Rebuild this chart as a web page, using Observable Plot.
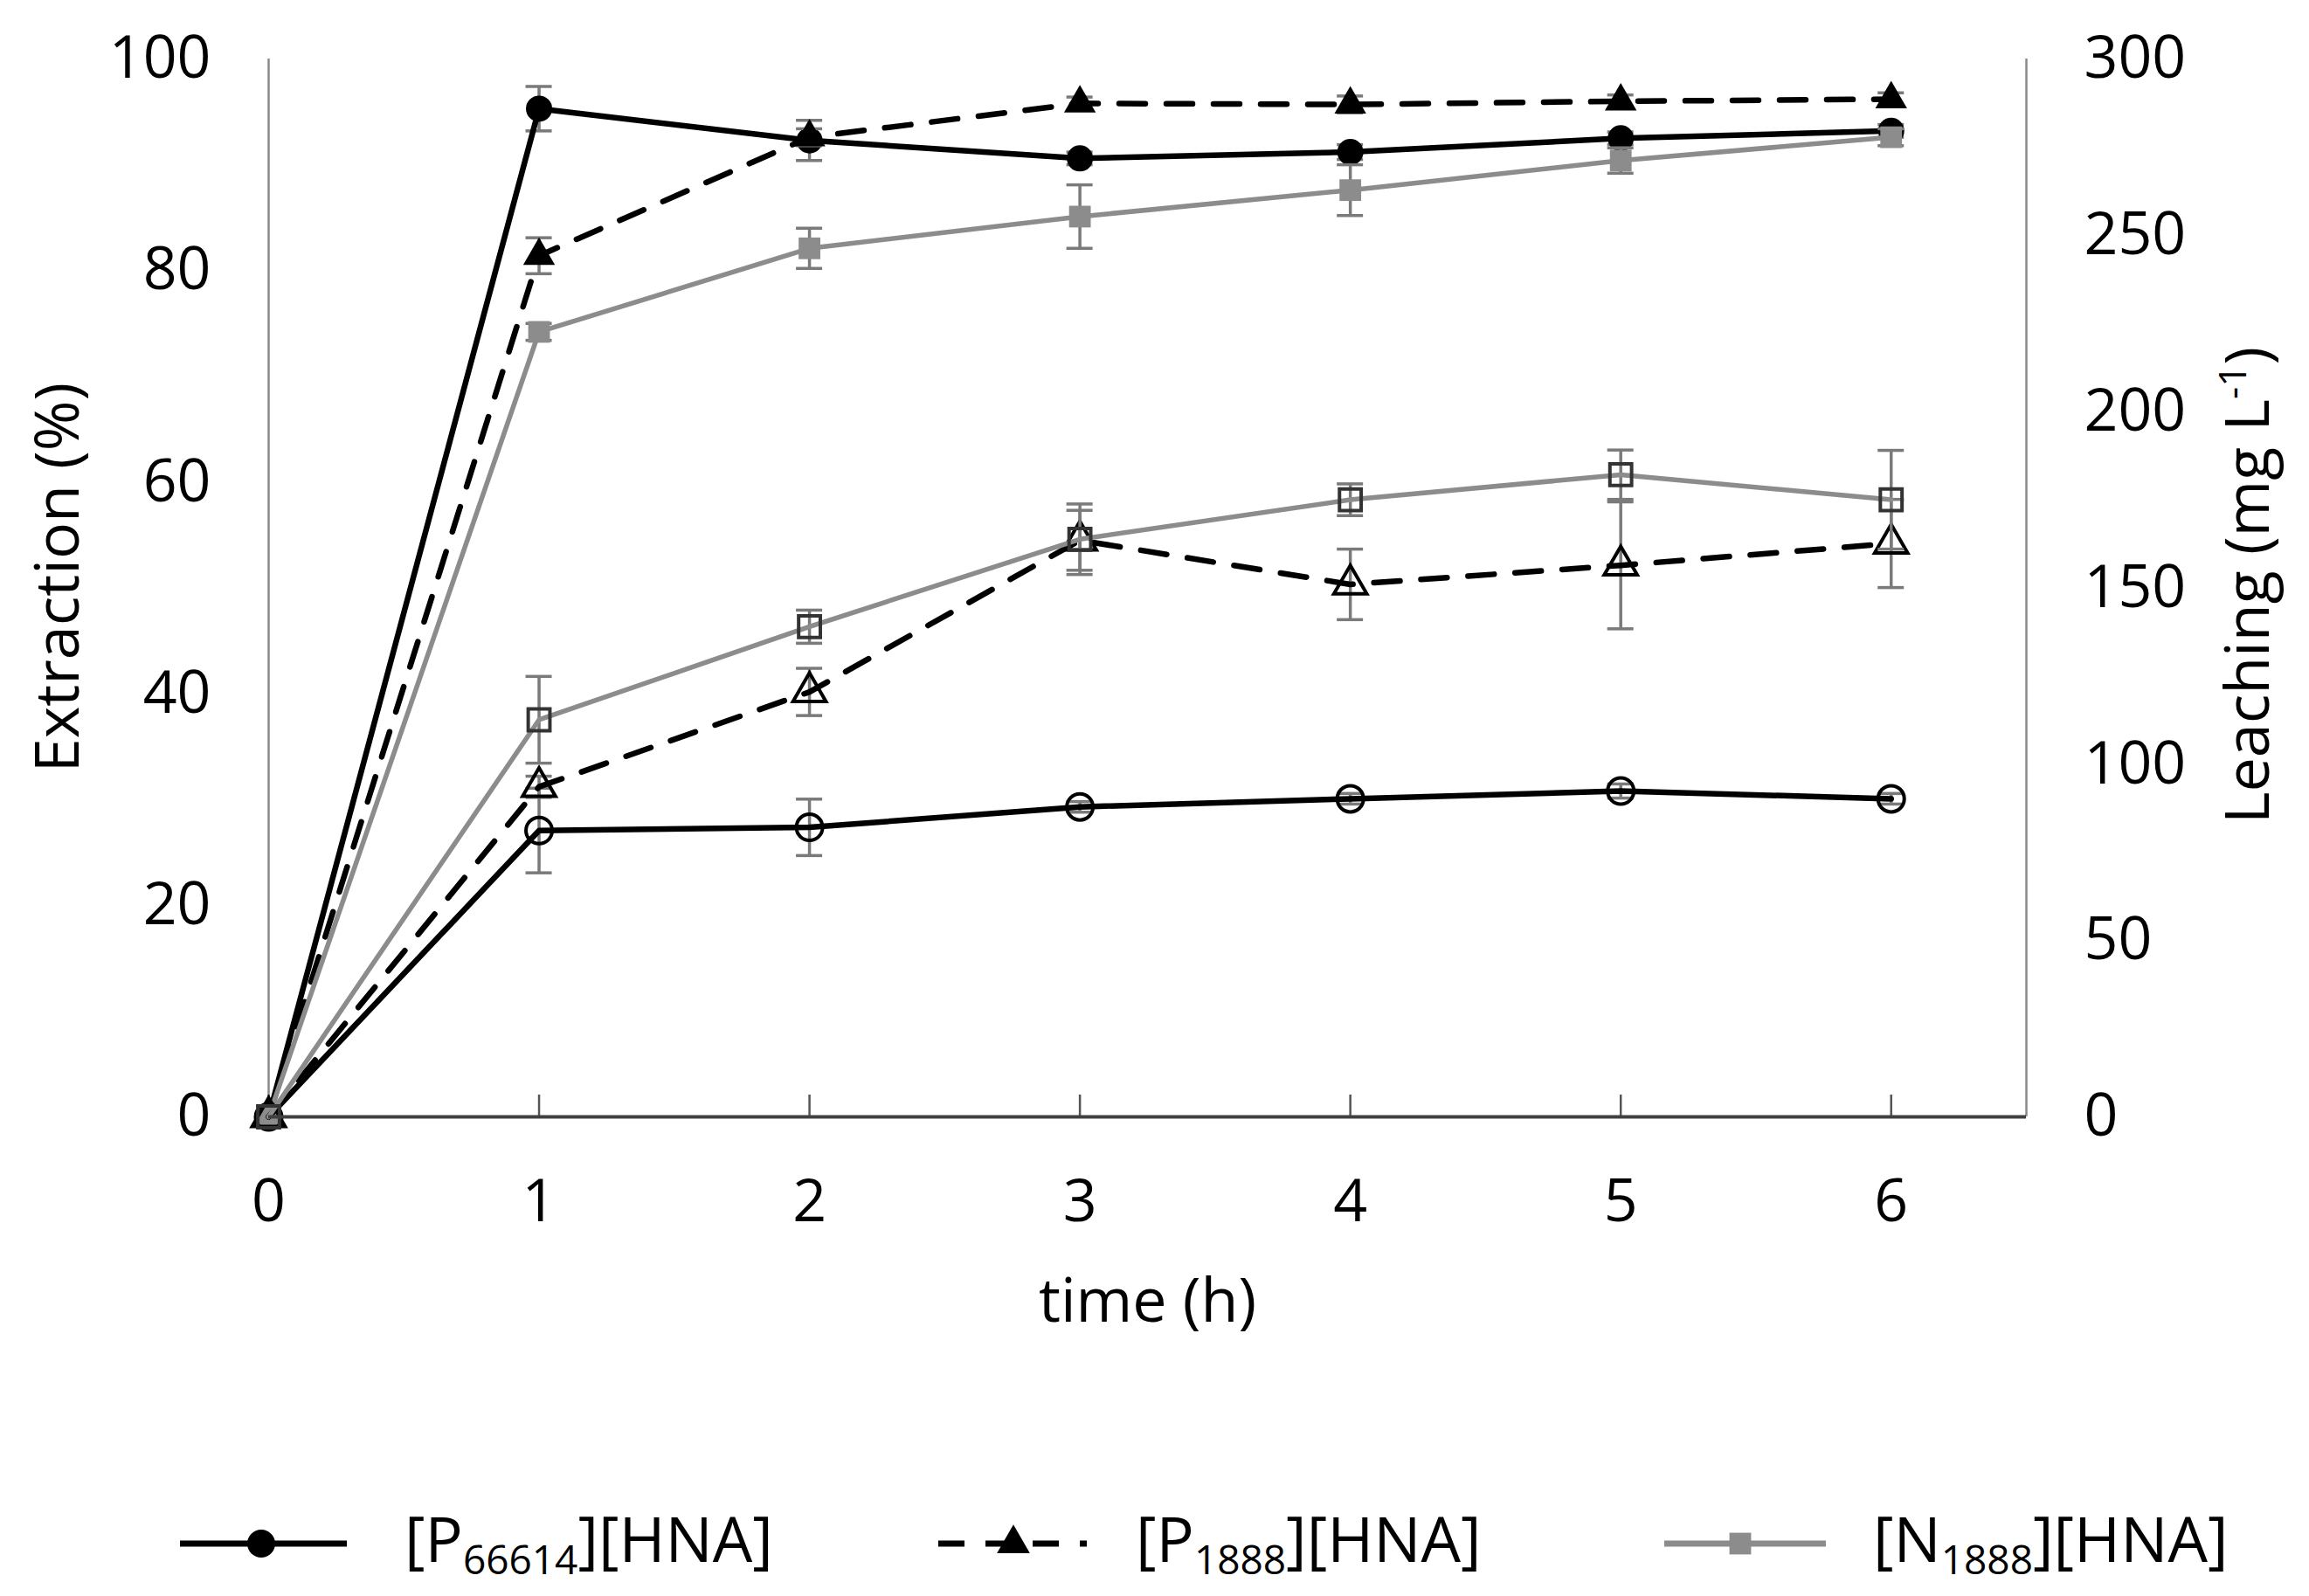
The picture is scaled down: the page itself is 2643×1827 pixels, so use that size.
<!DOCTYPE html>
<html><head><meta charset="utf-8">
<script src="https://cdn.jsdelivr.net/npm/d3@7"></script>
<script src="https://cdn.jsdelivr.net/npm/@observablehq/plot@0.6"></script>
<style>
html,body{margin:0;padding:0;background:#fff;}
#chart{width:2643px;}
#chart svg{display:block;}
</style></head><body><div id="chart"></div>
<script>
// ---- data ----
const time = [0, 1, 2, 3, 4, 5, 6];
const seriesLabels = ["P66614", "P1888", "N1888"];

// Extraction (%) – filled markers
const extP66614    = [0, 95.3, 92.3, 90.6, 91.2, 92.5, 93.2];
const extP66614Err = [0, 2.1, 1.9, 0.6, 0.7, 0.6, 0.6];
const extP1888     = [0, 81.4, 92.6, 95.8, 95.7, 96.0, 96.2];
const extP1888Err  = [0, 1.7, 0.8, 0.6, 0.8, 0.6, 0.6];
const extN1888     = [0, 74.2, 82.1, 85.1, 87.6, 90.4, 92.6];
const extN1888Err  = [0, 0.8, 1.9, 3.0, 2.4, 1.2, 0.8];

// Leaching (mg L-1) – open markers, right axis
const leachP66614    = [0, 81.2, 82.1, 87.9, 90.2, 92.4, 90.2];
const leachP66614Err = [0, 12, 8, 1.5, 1.5, 2, 1.5];
const leachP1888     = [0, 93.6, 120.5, 163.5, 151.0, 156.4, 162.6];
const leachP1888Err  = [0, 3, 6.7, 8.5, 10, 18, 12.5];
const leachN1888     = [0, 112.6, 139.0, 163.8, 175.0, 182.1, 175.0];
const leachN1888Err  = [0, 12.3, 4.7, 10, 4.5, 7, 14];

const xTicks = [0, 1, 2, 3, 4, 5, 6];
const xMax = 6.5;
const leftTicks = [0, 20, 40, 60, 80, 100];
const rightTicks = [0, 50, 100, 150, 200, 250, 300];
const extMax = 100, leachMax = 300;
const ratio = leachMax / extMax;

const xLabel = "time (h)";
const yLabel = "Extraction (%)";
const y2Label = "Leaching (mg L-1)";

// ---- build ----
function rows(vals, errs, scale) {
  return time.map((t, i) => ({t, v: vals[i] / scale, e: errs[i] / scale}));
}

const FONT = "'Open Sans', sans-serif";
const ERR = "#7a7a7a";
const GRAY = "#8c8c8c";
const DASH = "30,24";

function seriesMarks(data, line, dot) {
  const withErr = data.filter(d => d.e > 0);
  return [
    Plot.ruleX(withErr, {x: "t", y1: d => d.v - d.e, y2: d => d.v + d.e, stroke: ERR, strokeWidth: 3.5}),
    Plot.ruleY(withErr, {x1: "t", x2: "t", y: d => d.v + d.e, insetLeft: -15, insetRight: -15, stroke: ERR, strokeWidth: 3.5}),
    Plot.ruleY(withErr, {x1: "t", x2: "t", y: d => d.v - d.e, insetLeft: -15, insetRight: -15, stroke: ERR, strokeWidth: 3.5}),
    Plot.line(data, {x: "t", y: "v", ...line}),
    Plot.dot(data, {x: "t", y: "v", ...dot})
  ];
}

const ext1 = rows(extP66614, extP66614Err, 1);
const ext2 = rows(extP1888, extP1888Err, 1);
const ext3 = rows(extN1888, extN1888Err, 1);
const lea1 = rows(leachP66614, leachP66614Err, ratio);
const lea2 = rows(leachP1888, leachP1888Err, ratio);
const lea3 = rows(leachN1888, leachN1888Err, ratio);

const W = 2643, H = 1600;

const chart = Plot.plot({
  width: W, height: H,
  marginLeft: 307, marginRight: 324, marginTop: 67, marginBottom: 322,
  x: {domain: [0, xMax]},
  y: {domain: [0, extMax]},
  style: {fontFamily: FONT, background: "white", color: "black"},
  marks: [
    // axes lines
    Plot.ruleX([0], {stroke: "#8a8a8a", strokeWidth: 2.5}),
    Plot.ruleX([xMax], {stroke: "#8a8a8a", strokeWidth: 2.5}),
    Plot.ruleX(xTicks, {x: d => d, y1: 0, y2: 0, insetTop: -25, stroke: "#555", strokeWidth: 2.5}),
    Plot.axisX({ticks: xTicks, tickSize: 0, tickPadding: 71, fontSize: 68, label: null, tickFormat: d => String(d)}),
    Plot.axisY({ticks: leftTicks, tickSize: 0, tickPadding: 66, fontSize: 68, label: null, tickFormat: d => String(d)}),
    Plot.axisY({anchor: "right", ticks: rightTicks.map(v => v / ratio), tickSize: 0, tickPadding: 66, fontSize: 68, label: null, tickFormat: d => String(Math.round(d * ratio))}),
    // titles
    Plot.text([xLabel], {text: d => d, frameAnchor: "bottom", dy: 212, fontSize: 70, textAnchor: "middle", lineAnchor: "middle"}),
    Plot.text([yLabel], {text: d => d, frameAnchor: "left", dx: -240, dy: -12, rotate: -90, fontSize: 70, textAnchor: "middle", lineAnchor: "middle"}),
    Plot.text([y2Label], {text: d => d, frameAnchor: "right", dx: 255, dy: -3, rotate: -90, fontSize: 70, textAnchor: "middle", lineAnchor: "middle"}),
    // extraction series
    ...seriesMarks(ext1, {stroke: "black", strokeWidth: 6.5}, {symbol: "circle", r: 15, fill: "black"}),
    ...seriesMarks(ext2, {stroke: "black", strokeWidth: 6.5, strokeDasharray: DASH}, {symbol: "triangle", r: 13.5, fill: "black"}),
    ...seriesMarks(ext3, {stroke: GRAY, strokeWidth: 5.5}, {symbol: "square", r: 14, fill: GRAY}),
    // leaching series
    ...seriesMarks(lea1, {stroke: "black", strokeWidth: 6.5}, {symbol: "circle", r: 15, fill: "none", stroke: "black", strokeWidth: 4}),
    ...seriesMarks(lea2, {stroke: "black", strokeWidth: 6.5, strokeDasharray: DASH}, {symbol: "triangle", r: 14, fill: "none", stroke: "black", strokeWidth: 4}),
    ...seriesMarks(lea3, {stroke: GRAY, strokeWidth: 5.5}, {symbol: "square", r: 14, fill: "none", stroke: "#333", strokeWidth: 4}),
    // bottom axis line on top
    Plot.ruleY([0], {stroke: "#404040", strokeWidth: 4})
  ]
});

// superscript in right axis title
d3.select(chart).selectAll("text").filter(function() { return this.textContent === y2Label; })
  .each(function() {
    const t = d3.select(this);
    t.text(null);
    t.append("tspan").text("Leaching (mg L");
    t.append("tspan").attr("font-size", 44).attr("dy", -26).text("-1");
    t.append("tspan").attr("font-size", 70).attr("dy", 26).text(")");
  });

document.getElementById("chart").appendChild(chart);

// ---- legend (below the SVG) ----
const legendItems = [
  {name: "P", sub: "66614", x0: 206, x1: 397, mx: 299, tx: 463, stroke: "black", dash: null, sym: d3.symbolCircle, r: 16, fill: "black"},
  {name: "P", sub: "1888", x0: 1074, x1: 1244, mx: 1160, tx: 1300, stroke: "black", dash: DASH, sym: d3.symbolTriangle, r: 14, fill: "black"},
  {name: "N", sub: "1888", x0: 1905, x1: 2090, mx: 1992, tx: 2144, stroke: GRAY, dash: null, sym: d3.symbolSquare, r: 14, fill: GRAY}
];
const LH = 227, ly = 167;
const leg = d3.create("svg").attr("width", W).attr("height", LH).style("display", "block")
  .style("font-family", FONT);
for (const it of legendItems) {
  leg.append("line").attr("x1", it.x0).attr("x2", it.x1).attr("y1", ly).attr("y2", ly)
    .attr("stroke", it.stroke).attr("stroke-width", 7).attr("stroke-dasharray", it.dash);
  leg.append("path").attr("transform", `translate(${it.mx},${ly})`)
    .attr("d", d3.symbol(it.sym, it.r * it.r * Math.PI)()).attr("fill", it.fill);
  const tx = leg.append("text").attr("x", it.tx).attr("y", ly + 21).attr("font-size", 72).attr("fill", "black");
  tx.append("tspan").text("[" + it.name);
  tx.append("tspan").attr("font-size", 46).attr("dy", 14).text(it.sub);
  tx.append("tspan").attr("font-size", 72).attr("dy", -14).text("][HNA]");
}
document.getElementById("chart").appendChild(leg.node());
</script>
</body></html>
